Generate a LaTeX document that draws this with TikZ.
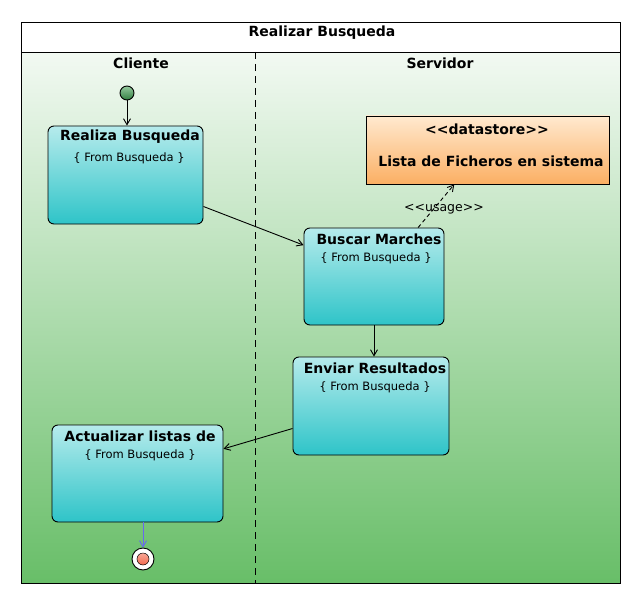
\documentclass[tikz,border=0pt]{standalone}
\usepackage{fontspec}
\setmainfont{DejaVu Sans}
\usetikzlibrary{arrows.meta}
\definecolor{bgtop}{HTML}{F2F9F2}
\definecolor{bgbot}{HTML}{68BE68}
\definecolor{acttop}{HTML}{B6EBEC}
\definecolor{actbot}{HTML}{2EC4C8}
\definecolor{dstop}{HTML}{FFE9CF}
\definecolor{dsbot}{HTML}{FBAF63}
\definecolor{initgreen}{HTML}{3E9E50}
\definecolor{finred}{HTML}{F26A4F}
\definecolor{endblue}{HTML}{6868EE}

\begin{document}
\begin{tikzpicture}[x=1pt, y=-1pt, every node/.style={inner sep=0pt}, every path/.style={line width=0.9pt},
	act/.style={rectangle, rounded corners=6pt, draw=black, top color=acttop, bottom color=actbot},
	acttitle/.style={font=\fontsize{14}{16}\selectfont\bfseries},
	actsub/.style={font=\fontsize{11.5}{13}\selectfont},
	flow/.style={-{Straight Barb[length=6pt, width=7pt]}}]
		\useasboundingbox (0,0) rectangle (639,604);
		\shade[top color=bgtop, bottom color=bgbot] (21,52) rectangle (620,583);
		\draw[fill=white] (21,22) rectangle (620,52);
		\draw (21,22) rectangle (620,583);
		\draw[dash pattern=on 7pt off 5pt] (255,52) -- (255,583);
		
		\node[acttitle] (title) at (322,33){Realizar Busqueda};
		\node[acttitle] (cliente) at (141,63){Cliente};
		\node[acttitle] (servidor) at (440,63){Servidor};
		
		\node[circle, draw=black, minimum size=14pt, top color=initgreen!55!white, bottom color=initgreen!80!black] (init) at (127,93){};
		
		\node[act, minimum width=155pt, minimum height=98pt] (rb) at (125.5,175){};
		\node[acttitle] (rbt) at (130,137){Realiza Busqueda};
		\node[actsub] (rbs) at (129,158){\{ From Busqueda \}};
		
		\node[rectangle, draw=black, minimum width=243pt, minimum height=68pt, top color=dstop, bottom color=dsbot] (ds) at (487.5,150){};
		\node[acttitle] (dst) at (487,129){{<}{<}datastore{>}{>}};
		\node[acttitle] (dsn) at (491,161){Lista de Ficheros en sistema};
		
		\node[act, minimum width=140pt, minimum height=97pt] (bs) at (374,276.5){};
		\node[acttitle] (bst) at (379,239){Buscar Marches};
		\node[actsub] (bss) at (376,258){\{ From Busqueda \}};
		
		\node[act, minimum width=156pt, minimum height=98pt] (er) at (371,406){};
		\node[acttitle] (ert) at (375,368){Enviar Resultados};
		\node[actsub] (ers) at (375,387){\{ From Busqueda \}};
		
		\node[act, minimum width=171pt, minimum height=97pt] (al) at (137.5,473.5){};
		\node[acttitle] (alt) at (140,436){Actualizar listas de};
		\node[actsub] (als) at (140,455){\{ From Busqueda \}};
		
		\node[circle, draw=black, fill=white, minimum size=22pt] (fin) at (143,559){};
		\node[circle, draw=black, line width=0.5pt, minimum size=12pt, top color=finred!60!white, bottom color=finred] (fini) at (143,559){};
		
		\draw[flow] (init.south) -- (init.south |- rb.north);
		\draw[flow] (rb.-22) -- (bs.156);
		\draw[flow] (bs.south) -- (er.north -| bs.south);
		\draw[flow] (er.196) -- (al.16);
		\draw[flow, endblue] (fin.north |- al.south) -- (fin.north);
		\draw[flow, dash pattern=on 4pt off 3pt] (bs.48) -- (ds.226);
		\node[font=\fontsize{12.5}{14}\selectfont] (usage) at (444,209){{<}{<}usage{>}{>}};
		\end{tikzpicture}
\end{document}
